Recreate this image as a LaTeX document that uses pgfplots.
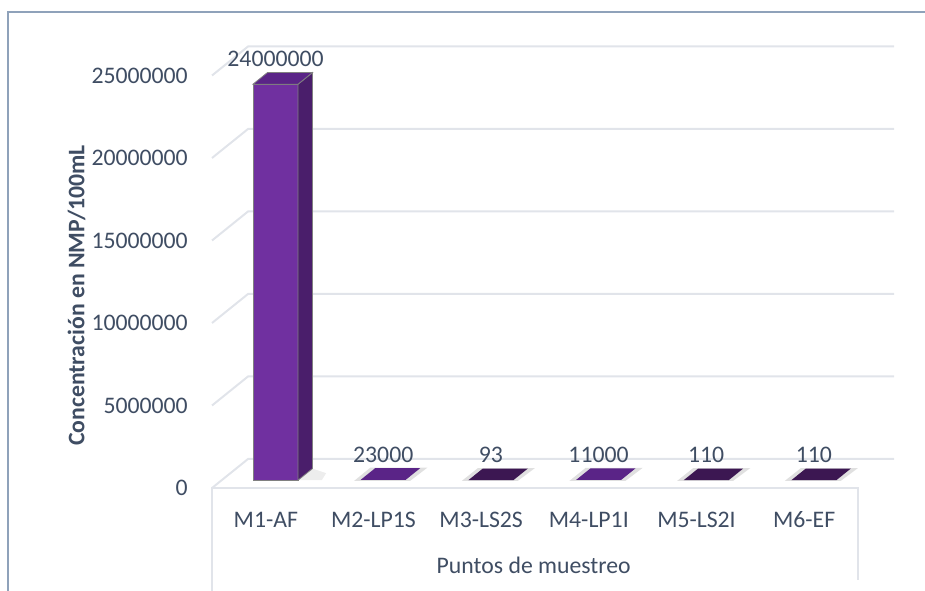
\documentclass[border=0pt]{standalone}
\usepackage{pgfplots}
\usepackage{pgfplotstable}
\pgfplotsset{compat=1.18}
\usepackage{fontspec}
\setmainfont{Carlito}

\definecolor{texto}{HTML}{3F4D63}
\definecolor{rejilla}{HTML}{E1E4EA}
\definecolor{frente}{HTML}{7030A0}
\definecolor{lado}{HTML}{4A1E6B}
\definecolor{tapa}{HTML}{5A2487}
\definecolor{tapaosc}{HTML}{3C1752}
\definecolor{marco}{HTML}{8FA2BA}
\newcommand{\letra}{\fontsize{17.8}{20}\selectfont}

% valores del grafico
\pgfplotstableread{
x v etiqueta
0 24000000 24000000
1 23000 23000
2 93 93
3 11000 11000
4 110 110
5 110 110
}\datos

\begin{document}
\begin{tikzpicture}
\path[use as bounding box] (0,0) rectangle (693.75pt,-443.25pt);
\begin{scope}
\clip (0,0) rectangle (693.75pt,-443.25pt);
\draw[marco, line width=1.5pt] (6pt,-450pt) -- (6pt,-9pt) -- (700pt,-9pt);
\end{scope}
\begin{axis}[
  at={(159pt,-366pt)}, anchor=south west,
  scale only axis, width=484.5pt, height=309.375pt,
  xmin=-0.5, xmax=5.5, ymin=0, ymax=25000000,
  clip=false,
  scaled y ticks=false,
  axis line style={draw=none},
  major tick length=0pt,
  xtick={0,...,5},
  xticklabels={M1-AF,M2-LP1S,M3-LS2S,M4-LP1I,M5-LS2I,M6-EF},
  ytick={0,5000000,10000000,15000000,20000000,25000000},
  yticklabels={0,5000000,10000000,15000000,20000000,25000000},
  tick label style={font=\letra, text=texto},
  yticklabel style={anchor=east, inner sep=0pt, xshift=-18pt},
  xticklabel style={anchor=center, inner sep=0pt, yshift=-24pt},
  ylabel={Concentración en NMP/100mL},
  xlabel={Puntos de muestreo},
  label style={font=\letra, text=texto},
  ylabel style={at={(axis description cs:-0.2098,0.4667)}, anchor=center, font=\letra\bfseries},
  xlabel style={at={(axis description cs:0.498,-0.187)}, anchor=center},
]
% rejilla: pared lateral y pared del fondo
\addplot[rejilla, line width=1.5pt] coordinates {(-0.5,0) (-0.1656,1757600) (5.8344,1757600)};
\addplot[rejilla, line width=1.5pt] coordinates {(-0.5,5000000) (-0.1656,6757600) (5.8344,6757600)};
\addplot[rejilla, line width=1.5pt] coordinates {(-0.5,10000000) (-0.1656,11757600) (5.8344,11757600)};
\addplot[rejilla, line width=1.5pt] coordinates {(-0.5,15000000) (-0.1656,16757600) (5.8344,16757600)};
\addplot[rejilla, line width=1.5pt] coordinates {(-0.5,20000000) (-0.1656,21757600) (5.8344,21757600)};
\addplot[rejilla, line width=1.5pt] coordinates {(-0.5,25000000) (-0.1656,26757600) (5.8344,26757600)};
% borde frontal del piso y caja de categorias
\addplot[rejilla, line width=1.5pt] coordinates {(-0.5,-6400000) (-0.5,0) (5.5,0) (5.5,-5576000)};

% sombras
\addplot[draw=none, fill=black, opacity=0.07] coordinates {(0.2993,474600) (0.52,474600) (0.56,900000) (0.4331,1177600)} -- cycle;
\addplot[draw=none, fill=black, opacity=0.12] coordinates {(0.82,430000) (1.34,430000) (1.50,1230000) (0.97,1230000)} -- cycle;
\addplot[draw=none, fill=black, opacity=0.12] coordinates {(1.82,430000) (2.34,430000) (2.50,1210000) (1.97,1210000)} -- cycle;
\addplot[draw=none, fill=black, opacity=0.12] coordinates {(2.82,430000) (3.34,430000) (3.50,1220000) (2.97,1220000)} -- cycle;
\addplot[draw=none, fill=black, opacity=0.12] coordinates {(3.82,430000) (4.34,430000) (4.50,1210000) (3.97,1210000)} -- cycle;
\addplot[draw=none, fill=black, opacity=0.12] coordinates {(4.82,430000) (5.34,430000) (5.50,1210000) (4.97,1210000)} -- cycle;

% M1-AF: frente, lado y tapa
\addplot[fill=frente, draw=gray, line width=0.6pt] coordinates {(-0.1187,474600) (0.2993,474600) (0.2993,24474600) (-0.1187,24474600)} -- cycle;
\addplot[fill=lado, draw=gray, line width=0.6pt] coordinates {(0.2993,474600) (0.4331,1177600) (0.4331,25177600) (0.2993,24474600)} -- cycle;
\addplot[fill=tapa, draw=gray, line width=0.6pt] coordinates {(-0.1187,24474600) (0.2993,24474600) (0.4331,25177600) (0.0151,25177600)} -- cycle;
% barras muy bajas: solo se ve la tapa
\addplot[fill=tapa, draw=none] coordinates {(0.8813,497600) (1.2993,497600) (1.4331,1200600) (1.0151,1200600)} -- cycle;
\addplot[fill=tapaosc, draw=none] coordinates {(1.8813,474700) (2.2993,474700) (2.4331,1177700) (2.0151,1177700)} -- cycle;
\addplot[fill=tapa, draw=none] coordinates {(2.8813,485600) (3.2993,485600) (3.4331,1188600) (3.0151,1188600)} -- cycle;
\addplot[fill=tapaosc, draw=none] coordinates {(3.8813,474710) (4.2993,474710) (4.4331,1177710) (4.0151,1177710)} -- cycle;
\addplot[fill=tapaosc, draw=none] coordinates {(4.8813,474710) (5.2993,474710) (5.4331,1177710) (5.0151,1177710)} -- cycle;

% etiquetas de datos
\addplot[draw=none, nodes near coords, point meta=explicit symbolic,
  nodes near coords style={font=\letra, text=texto, anchor=center, yshift=18.75pt}]
  table[x expr=\thisrow{x}+0.0903, y expr=\thisrow{v}+474600, meta=etiqueta] {\datos};
\end{axis}
\end{tikzpicture}
\end{document}
